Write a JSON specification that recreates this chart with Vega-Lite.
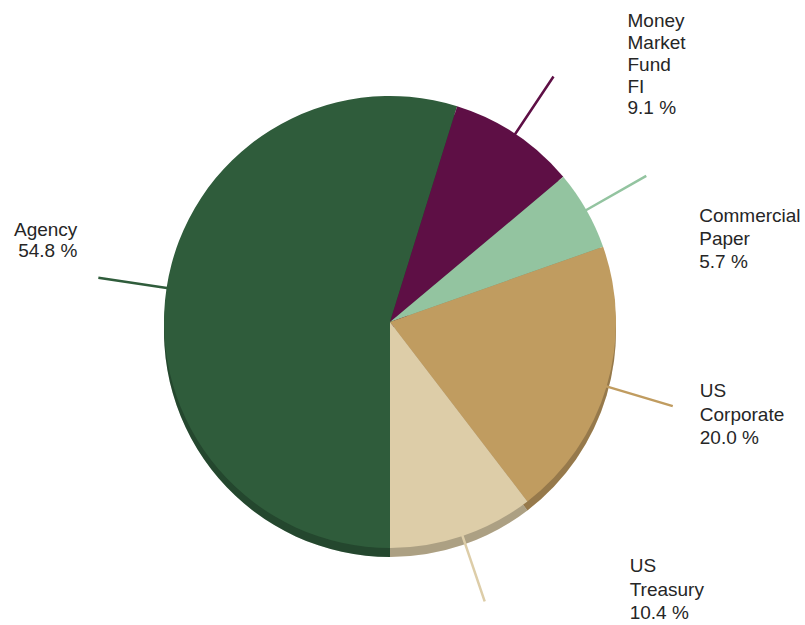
{
  "$schema": "https://vega.github.io/schema/vega-lite/v6.json",
  "width": 780,
  "height": 606,
  "autosize": "none",
  "padding": {"left": 0, "right": 25, "top": 19, "bottom": 0},
  "background": "#ffffff",
  "config": {"view": {"stroke": null}, "text": {"font": "Liberation Sans"}},
  "data": {
    "values": [
      {"order": 1, "cat": "Agency", "value": 54.8, "label": "Agency\n54.8 %"},
      {"order": 2, "cat": "Money Market Fund FI", "value": 9.1, "label": "Money\nMarket\nFund\nFI\n9.1 %"},
      {"order": 3, "cat": "Commercial Paper", "value": 5.7, "label": "Commercial\nPaper\n5.7 %"},
      {"order": 4, "cat": "US Corporate", "value": 20.0, "label": "US\nCorporate\n20.0 %"},
      {"order": 5, "cat": "US Treasury", "value": 10.4, "label": "US\nTreasury\n10.4 %"}
    ]
  },
  "transform": [
    {"window": [{"op": "sum", "field": "value", "as": "cum"}], "sort": [{"field": "order"}], "frame": [null, 0]},
    {"calculate": "datum.cum - datum.value / 2", "as": "mid"}
  ],
  "layer": [
    {
      "mark": {"type": "arc", "radius": 226, "yOffset": 9},
      "encoding": {
        "theta": {"field": "value", "type": "quantitative", "stack": true, "scale": {"domain": [0, 100], "range": [3.14159265, 9.42477796]}},
        "order": {"field": "order"},
        "color": {"field": "cat", "type": "nominal", "legend": null, "scale": {"domain": ["Agency", "Money Market Fund FI", "Commercial Paper", "US Corporate", "US Treasury"], "range": ["#2F5C3B", "#5E0F45", "#93C4A0", "#C09C60", "#DDCDA8"]}}
      }
    },
    {
      "mark": {"type": "arc", "radius": 226, "yOffset": 9, "fill": "#000000", "fillOpacity": 0.22},
      "encoding": {
        "theta": {"field": "value", "type": "quantitative", "stack": true},
        "order": {"field": "order"}
      }
    },
    {
      "mark": {"type": "arc", "radius": 226},
      "encoding": {
        "theta": {"field": "value", "type": "quantitative", "stack": true},
        "order": {"field": "order"},
        "color": {"field": "cat", "type": "nominal", "legend": null}
      }
    },
    {
      "mark": {"type": "arc", "radius": 295, "radius2": 224, "filled": false, "strokeWidth": 2.5},
      "encoding": {
        "theta": {"field": "mid", "type": "quantitative", "stack": null},
        "theta2": {"field": "mid"},
        "color": {"field": "cat", "type": "nominal", "legend": null}
      }
    },
    {
      "transform": [{"filter": "datum.cat == 'Agency'"}],
      "mark": {"type": "text", "radius": 295, "align": "right", "baseline": "middle", "dx": -21, "dy": -48, "fontSize": 19, "lineHeight": 21.5, "lineBreak": "\n", "color": "#262626"},
      "encoding": {"theta": {"field": "mid", "type": "quantitative", "stack": null}, "text": {"field": "label"}}
    },
    {
      "transform": [{"filter": "datum.cat == 'Money Market Fund FI'"}],
      "mark": {"type": "text", "radius": 295, "align": "left", "baseline": "middle", "dx": 74, "dy": -55, "fontSize": 19, "lineHeight": 21.7, "lineBreak": "\n", "color": "#262626"},
      "encoding": {"theta": {"field": "mid", "type": "quantitative", "stack": null}, "text": {"field": "label"}}
    },
    {
      "transform": [{"filter": "datum.cat == 'Commercial Paper'"}],
      "mark": {"type": "text", "radius": 295, "align": "left", "baseline": "middle", "dx": 53, "dy": 40, "fontSize": 19, "lineHeight": 23, "lineBreak": "\n", "color": "#262626"},
      "encoding": {"theta": {"field": "mid", "type": "quantitative", "stack": null}, "text": {"field": "label"}}
    },
    {
      "transform": [{"filter": "datum.cat == 'US Corporate'"}],
      "mark": {"type": "text", "radius": 295, "align": "left", "baseline": "middle", "dx": 27, "dy": -15, "fontSize": 19, "lineHeight": 23.5, "lineBreak": "\n", "color": "#262626"},
      "encoding": {"theta": {"field": "mid", "type": "quantitative", "stack": null}, "text": {"field": "label"}}
    },
    {
      "transform": [{"filter": "datum.cat == 'US Treasury'"}],
      "mark": {"type": "text", "radius": 295, "align": "left", "baseline": "middle", "dx": 145, "dy": -35, "fontSize": 19, "lineHeight": 23.5, "lineBreak": "\n", "color": "#262626"},
      "encoding": {"theta": {"field": "mid", "type": "quantitative", "stack": null}, "text": {"field": "label"}}
    }
  ]
}
